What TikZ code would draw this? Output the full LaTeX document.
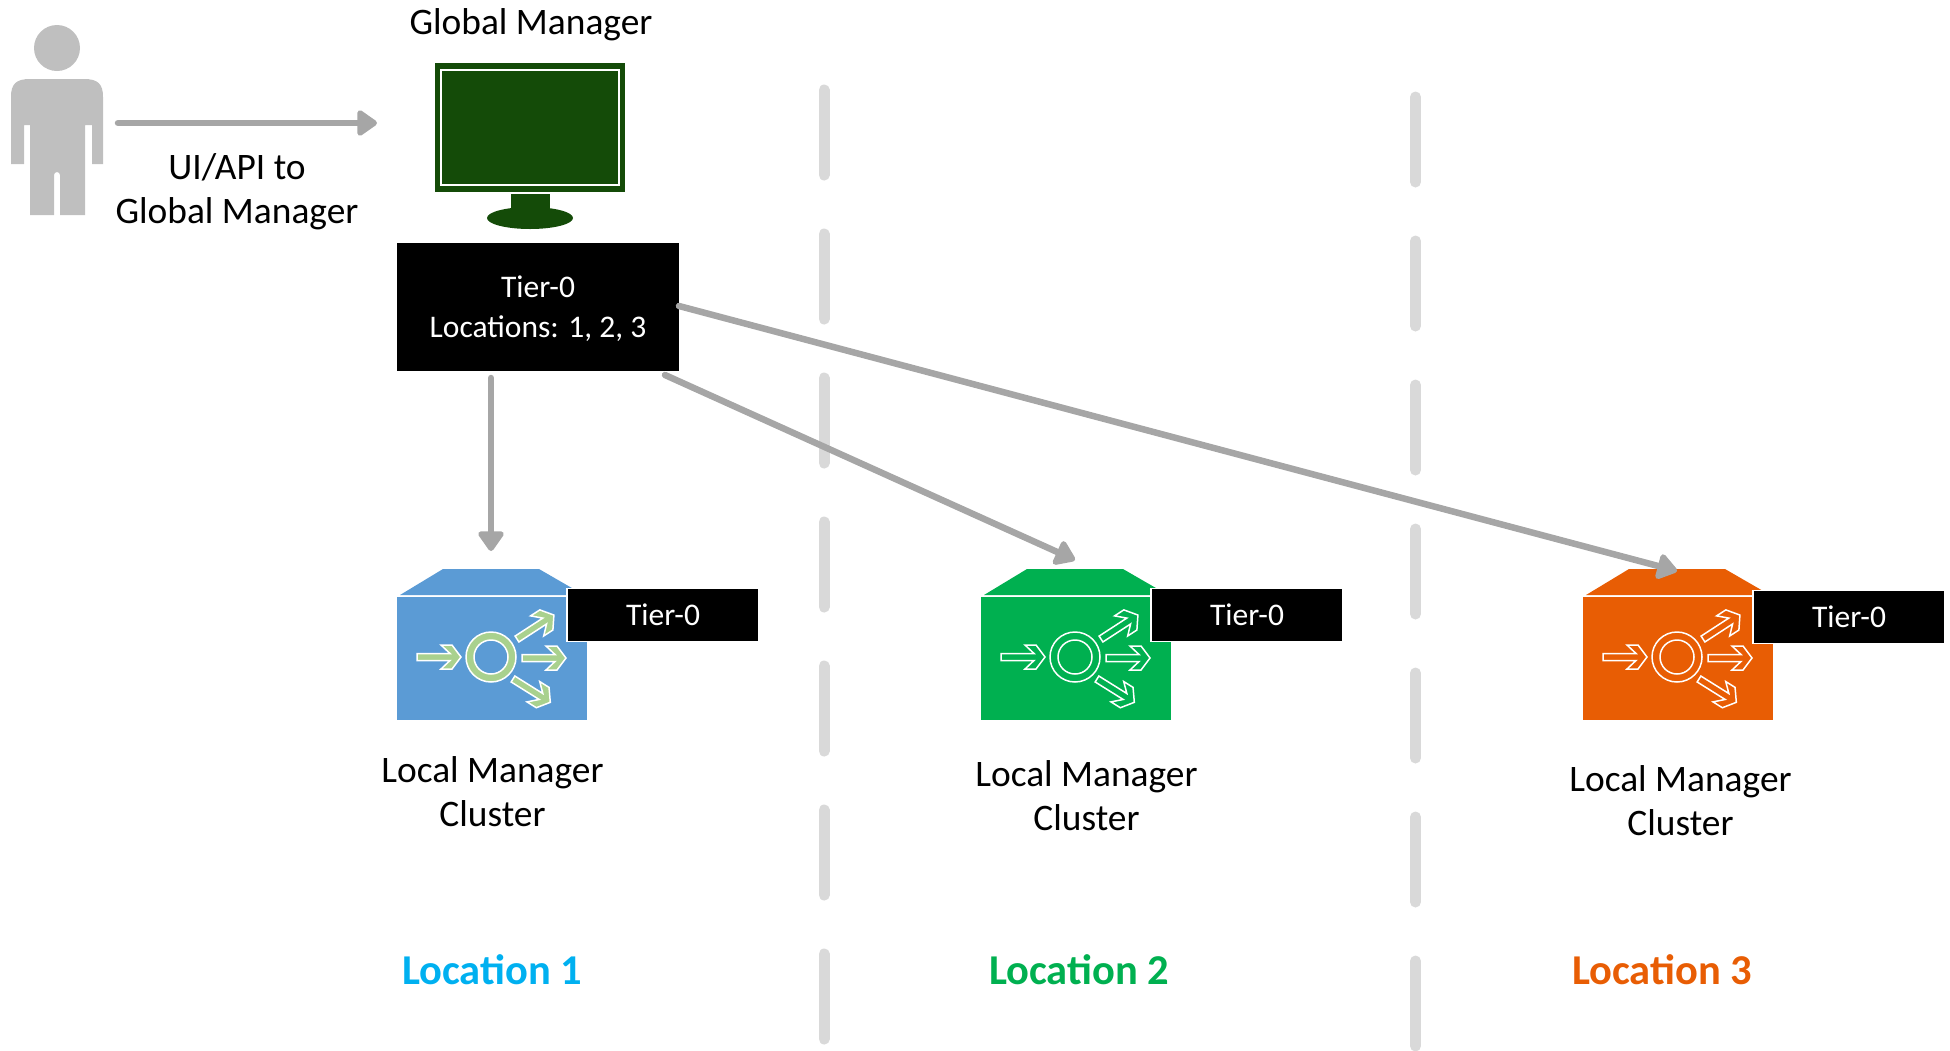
\documentclass[tikz,border=0pt]{standalone}
\usepackage{fontspec}
\setmainfont{Carlito}
\usetikzlibrary{arrows.meta}
\definecolor{gmgreen}{HTML}{144B08}
\definecolor{conn}{HTML}{A6A6A6}
\definecolor{persong}{HTML}{BFBFBF}
\definecolor{dashg}{HTML}{D9D9D9}
\definecolor{lmblue}{HTML}{5B9BD5}
\definecolor{lmgreen}{HTML}{00B050}
\definecolor{lmorange}{HTML}{E85D04}
\definecolor{iconlt}{HTML}{A9D18E}
\definecolor{locblue}{HTML}{00B0F0}
\tikzset{
  x=1pt,y=-1pt,
  lbl/.style={font=\fontsize{37.4}{44}\selectfont,align=center,inner sep=0pt,text=black},
  loclbl/.style={font=\fontsize{42.5}{50}\selectfont\bfseries,inner sep=0pt},
  tierbox/.style={draw=white,line width=1.5pt,fill=black,text=white,minimum width=192pt,minimum height=53pt,inner sep=0pt,font=\fontsize{31.5}{36}\selectfont},
  conn/.style={draw=conn,line width=6.5pt,line cap=round,-{Triangle[length=22pt,width=29pt,round]}},
  divider/.style={draw=dashg,line width=11pt,line cap=round,dash pattern=on 85pt off 59pt},
  lmbody/.style={inner sep=0pt,minimum width=190pt,minimum height=123pt,anchor=north west},
}
\newcommand{\icarrow}[6]{%
  \begin{scope}[shift={(#1,#2)},rotate=#3]
    \filldraw[draw=white,line width=1.5pt,line join=miter,fill=#5]
      (0,3.5)--(#4-11,3.5)--(#4-20,12)--(#4-9,12)--(#4,0)--(#4-9,-12)--(#4-20,-12)--(#4-11,-3.5)--(0,-3.5)--cycle;
  \end{scope}}
\newcommand{\lmcluster}[6]{%
  \begin{scope}[shift={(#1,#2)}]
    \fill[#3] (3,-2)--(46,-28)--(142,-28)--(187,-2)--cycle;
    \node[lmbody,fill=#3] (#5) at (0,0) {};
    \draw[white,line width=1.5pt,fill=#4,even odd rule] (94,60) circle[radius=25pt] (94,60) circle[radius=17pt];
    \icarrow{20}{60}{0}{44}{#4}{}
    \icarrow{125}{61}{0}{44}{#4}{}
    \icarrow{120}{42}{33}{44}{#4}{}
    \icarrow{116}{82}{-32}{44}{#4}{}
    \node[tierbox] (#5t) at (266,#6) {Tier-0};
  \end{scope}}
\begin{document}
\begin{tikzpicture}
\useasboundingbox (0,0) rectangle (1950,1050);
\coordinate (d1a) at (824,90); \coordinate (d1b) at (824,1045);
\coordinate (d2a) at (1415.5,97); \coordinate (d2b) at (1415.5,1050);
\draw[divider] (d1a) -- (d1b);
\draw[divider] (d2a) -- (d2b);
% person
\fill[persong] (57,48) ellipse[x radius=23pt,y radius=23pt];
\fill[persong] (11,164)--(11,97) .. controls (11,84) and (16,79) .. (30,79)--(84,79) .. controls (98,79) and (103,84) .. (103,97)--(103,164)--(92,164)--(92,125)--(85,125)--(85,215)--(60,215)--(60,175) arc[start angle=0,end angle=180,radius=3pt]--(54,215)--(30,215)--(30,125)--(24,125)--(24,164)--cycle;
\coordinate (personout) at (118,123);
% monitor
\fill[gmgreen] (435,63) rectangle (625,192);
\draw[white,line width=1.5pt] (441,70) rectangle (619,185);
\fill[gmgreen] (511,194) rectangle (550,215);
\fill[gmgreen] (530,218) ellipse[x radius=43pt,y radius=11pt];
\coordinate (gmin) at (377,123);
\node[lbl] (gmlabel) at (531,25) {Global Manager};
\node[lbl] (uilabel) at (237,192) {UI/API to\\Global Manager};
\node[inner sep=0pt,fill=black,minimum width=282pt,minimum height=128pt,anchor=north west] (gmtier) at (396.5,243) {};
\node[text=white,font=\fontsize{31.5}{40}\selectfont,align=center,inner sep=0pt] (gmtiertext) at (538,309) {Tier-0\\Locations: 1, 2, 3};
% clusters
\lmcluster{397}{597}{lmblue}{iconlt}{lmA}{18}
\lmcluster{981}{597}{lmgreen}{lmgreen}{lmB}{18}
\lmcluster{1583}{597}{lmorange}{lmorange}{lmC}{20}
\node[lbl] (lmAl) at (492.5,792) {Local Manager\\Cluster};
\node[lbl] (lmBl) at (1086.5,796) {Local Manager\\Cluster};
\node[lbl] (lmCl) at (1680.5,801) {Local Manager\\Cluster};
\node[loclbl,text=locblue] (locA) at (492,970) {Location 1};
\node[loclbl,text=lmgreen] (locB) at (1079,970) {Location 2};
\node[loclbl,text=lmorange] (locC) at (1662,970) {Location 3};
% connectors
\coordinate (s1) at (491,378); \coordinate (e1) at (491,551);
\coordinate (s2) at (665,375); \coordinate (e2) at (1075,560);
\coordinate (s3) at (679,306); \coordinate (e3) at (1677,571);
\draw[conn] (personout) -- (gmin);
\draw[conn] (s1) -- (e1);
\draw[conn] (s2) -- (e2);
\draw[conn] (s3) -- (e3);
\end{tikzpicture}
\end{document}
